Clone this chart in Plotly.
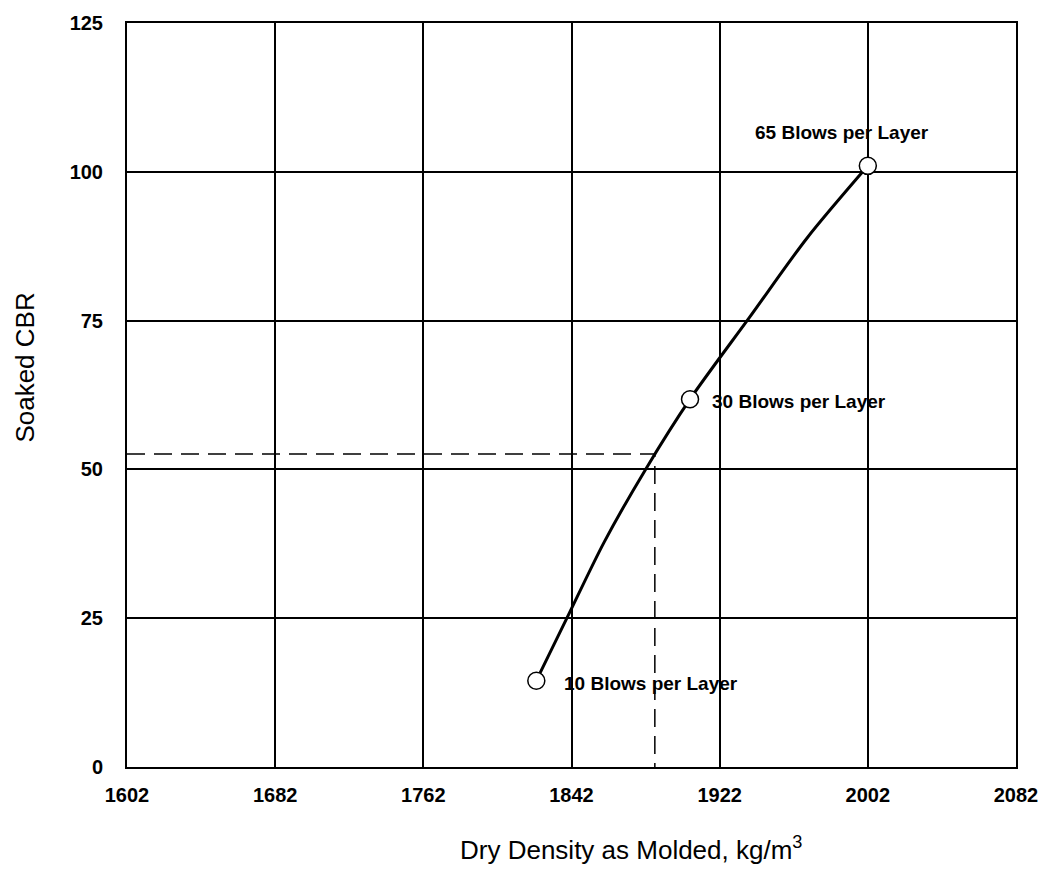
import plotly.graph_objects as go

# Data
x_ticks = [1602, 1682, 1762, 1842, 1922, 2002, 2082]
y_ticks = [0, 25, 50, 75, 100, 125]

point_x = [1823, 1906, 2002]
point_y = [14.5, 61.8, 101]
point_labels = ["10 Blows per Layer", "30 Blows per Layer", "65 Blows per Layer"]

curve_x = [1823, 1839.5, 1859.5, 1882, 1906, 1938, 1969, 2002]
curve_y = [14.5, 25, 37.7, 50, 61.8, 75.5, 88.8, 101]

read_x = 1887
read_y = 52.6

FONT = "Liberation Sans"

fig = go.Figure()

# dashed reading lines
fig.add_trace(go.Scatter(
    x=[x_ticks[0], read_x, read_x], y=[read_y, read_y, y_ticks[0]],
    mode="lines", line=dict(color="black", width=1.5, dash="18px,9px"),
    hoverinfo="skip", showlegend=False))

# curve
fig.add_trace(go.Scatter(
    x=curve_x, y=curve_y, mode="lines",
    line=dict(color="black", width=3, shape="spline", smoothing=0.8),
    hoverinfo="skip", showlegend=False))

# points
fig.add_trace(go.Scatter(
    x=point_x, y=point_y, mode="markers",
    marker=dict(symbol="circle", size=17, color="white",
                line=dict(color="black", width=1.5)),
    showlegend=False))

# labels
label_offsets = [dict(xanchor="left", yanchor="middle", xshift=26, yshift=-3),
                 dict(xanchor="left", yanchor="middle", xshift=20, yshift=-2),
                 dict(xanchor="center", yanchor="middle", xshift=-26, yshift=33)]
for x, y, t, off in zip(point_x, point_y, point_labels, label_offsets):
    fig.add_annotation(x=x, y=y, text=t, showarrow=False,
                       font=dict(family=FONT, size=19, color="black", weight="bold"),
                       **off)

# axis titles
fig.add_annotation(xref="paper", yref="paper", x=0.372, y=-0.11,
                   xanchor="left", yanchor="middle",
                   text="Dry Density as Molded, kg/m<sup>3</sup>", showarrow=False,
                   font=dict(family=FONT, size=26, color="black"))
fig.add_annotation(xref="paper", yref="paper", x=-0.115, y=0.64,
                   xanchor="center", yanchor="top",
                   text="Soaked CBR", textangle=-90, showarrow=False,
                   font=dict(family=FONT, size=26, color="black"))

axis_common = dict(showgrid=True, gridcolor="black", gridwidth=1.6,
                   showline=True, linecolor="black", linewidth=2, mirror=True,
                   zeroline=False, ticks="",
                   tickfont=dict(family=FONT, size=20, color="black", weight="bold"))

fig.update_xaxes(range=[x_ticks[0], x_ticks[-1]], tickvals=x_ticks,
                 ticktext=[str(v) for v in x_ticks], ticklabelstandoff=9,
                 **axis_common)
fig.update_yaxes(range=[y_ticks[0], y_ticks[-1]], tickvals=y_ticks,
                 ticktext=[str(v) for v in y_ticks], ticklabelstandoff=18,
                 **axis_common)

fig.update_layout(width=1050, height=871,
                  margin=dict(l=127, r=27, t=15, b=104),
                  paper_bgcolor="white", plot_bgcolor="white",
                  showlegend=False)

fig.write_html("out.html", config={"displayModeBar": False},
               post_script="document.body.style.margin='0';document.body.style.overflow='hidden';")
